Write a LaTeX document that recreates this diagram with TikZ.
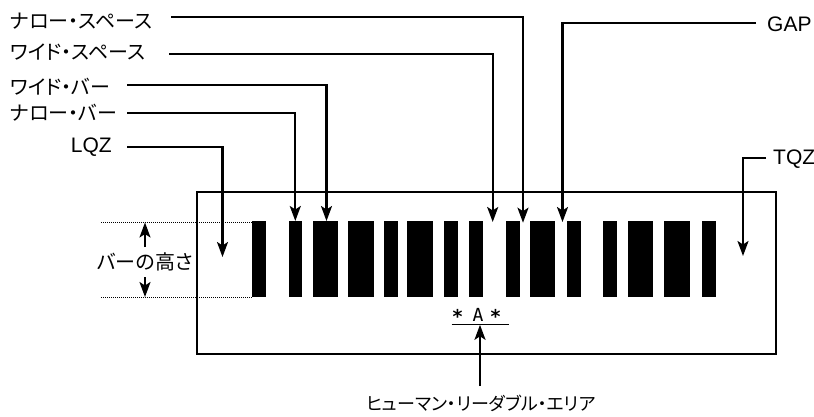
\documentclass[tikz,border=0pt]{standalone}
\usepackage{fontspec}
\newfontfamily\jpfont[RawFeature=+palt]{Noto Sans CJK JP}
\newfontfamily\latfont{Liberation Sans}
\newfontfamily\monofont{DejaVu Sans Mono}
\usetikzlibrary{arrows.meta}
\tikzset{
  conn/.style={line width=2.2pt, -{Stealth[length=15pt,width=11pt,inset=3.5pt]}},
  jlbl/.style={font=\jpfont\fontsize{20}{20}\selectfont, inner sep=0pt},
  llbl/.style={font=\latfont\fontsize{21}{21}\selectfont, inner sep=0pt},
  guide/.style={line width=0.9pt, dash pattern=on 1pt off 1pt},
  frame/.style={line width=2.2pt},
  barfill/.style={fill=black}
}
\begin{document}
\begin{tikzpicture}[x=1pt,y=-1pt]
\useasboundingbox (0,0) rectangle (814,416);
% frame
\draw[frame] (197,192) rectangle (776,354);
% bars
\foreach \a/\b in {252/266,289/302,313/338,348/374,384/398,407/433,444/458,469/483,506/520,530/555,567/581,603/617,628/653,664/690,702/716}
  \fill[barfill] (\a,221.3) rectangle (\b,297.3);
% labels
\node[jlbl, anchor=west] (ns) at (10,20.7) {ナロー・スペース};
\node[jlbl, anchor=west] (ws) at (10,52) {ワイド・スペース};
\node[jlbl, anchor=west] (wb) at (10,86.5) {ワイド・バー};
\node[jlbl, anchor=west] (nb) at (10,113) {ナロー・バー};
\node[llbl, anchor=east] (lqz) at (112,147) {LQZ};
\node[llbl, anchor=west] (gap) at (767,24.5) {GAP};
\node[llbl, anchor=west] (tqz) at (773,159) {TQZ};
\node[jlbl, anchor=west] (bh) at (97,262) {バーの高さ};
\node[jlbl, font=\jpfont\fontsize{18}{18}\selectfont] (hra) at (481,403) {ヒューマン・リーダブル・エリア};
\node[font=\monofont\bfseries\fontsize{19}{19}\selectfont, inner sep=0pt] (s1) at (457.5,316) {*};
\node[font=\monofont\fontsize{18}{18}\selectfont, inner sep=0pt] (ca) at (478,315) {A};
\node[font=\monofont\bfseries\fontsize{19}{19}\selectfont, inner sep=0pt] (s2) at (495.5,316) {*};
% connector start and tip points
\coordinate (nsS) at (171,17.3);   \coordinate (nsT) at (523,222.7);
\coordinate (wsS) at (169,54.3);   \coordinate (wsT) at (492.7,222);
\coordinate (wbS) at (127,85);     \coordinate (wbT) at (326.5,221);
\coordinate (nbS) at (127,113.3);  \coordinate (nbT) at (295.3,221);
\coordinate (lqzS) at (127,146.7); \coordinate (lqzT) at (222.5,257);
\coordinate (gapS) at (756,23.3);  \coordinate (gapT) at (562.5,222);
\coordinate (tqzS) at (766,157.7); \coordinate (tqzT) at (743,256);
\draw[conn] (nsS) -| (nsT);
\draw[conn] (wsS) -| (wsT);
\draw[conn] (wbS) -| (wbT);
\draw[conn] (nbS) -| (nbT);
\draw[conn] (lqzS) -| (lqzT);
\draw[conn] (gapS) -| (gapT);
\draw[conn] (tqzS) -| (tqzT);
% bar height guides
\coordinate (gtl) at (101,222);   \coordinate (gtr) at (252,222);
\coordinate (gbl) at (101,297.3); \coordinate (gbr) at (252,297.3);
\draw[guide] (gtl) -- (gtr);
\draw[guide] (gbl) -- (gbr);
\coordinate (upS) at (145,247);  \coordinate (upT) at (145,222.5);
\coordinate (dnS) at (145,277);  \coordinate (dnT) at (145,297);
\draw[conn] (upS) -- (upT);
\draw[conn] (dnS) -- (dnT);
% human readable underline and arrow
\coordinate (ul) at (451.7,324.3); \coordinate (ur) at (509.3,324.3);
\draw[line width=1.1pt] (ul) -- (ur);
\coordinate (hraS) at (480,386); \coordinate (hraT) at (480,324.8);
\draw[conn] (hraS) -- (hraT);
\end{tikzpicture}
\end{document}
